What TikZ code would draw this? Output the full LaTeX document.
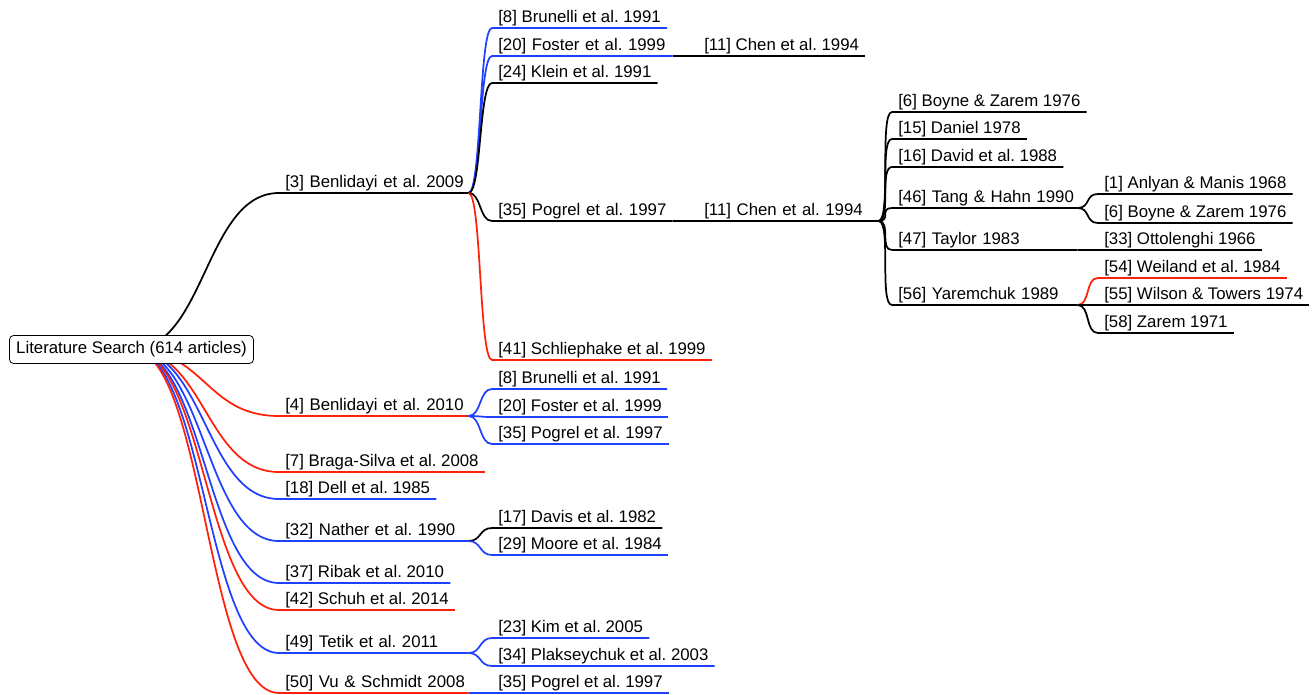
\documentclass[tikz,border=0pt]{standalone}
\usepackage{fontspec}
\setmainfont{Liberation Sans}
\frenchspacing
\usetikzlibrary{backgrounds}
\definecolor{refred}{RGB}{255,32,8}
\definecolor{refblue}{RGB}{32,64,255}
\tikzset{
	lit/.style={anchor=south west, inner xsep=4.5pt, inner ysep=1.6pt, font=\fontsize{12.6}{15}\selectfont},
	hub/.style={lit, text width=#1, execute at begin node=\hbox\bgroup, execute at end node=\egroup},
	branch/.style={line width=1.3pt},
}
\begin{document}
\begin{tikzpicture}[x=0.75pt, y=-0.75pt]
	\useasboundingbox (0,0) rectangle (1312,695);
	\node[draw, rounded corners=3pt, fill=white, line width=0.6pt, inner xsep=5pt, inner ysep=4.6pt, font=\fontsize{12.6}{15}\selectfont] (root) at (131.5,349.5) {Literature Search (614 articles)};

	% first level
	\node[hub=132.75pt] (n3) at (279,193) {[3] Benlidayi et al. 2009};
	\node[hub=132.75pt] (n4) at (279,416) {[4] Benlidayi et al. 2010};
	\node[lit] (n7) at (279,472) {[7] Braga-Silva et al. 2008};
	\node[lit] (n18) at (279,499) {[18] Dell et al. 1985};
	\node[hub=132.75pt] (n32) at (279,541) {[32] Nather et al. 1990};
	\node[lit] (n37) at (279,583) {[37] Ribak et al. 2010};
	\node[lit] (n42) at (279,610) {[42] Schuh et al. 2014};
	\node[hub=132.75pt] (n49) at (279,653) {[49] Tetik et al. 2011};
	\node[hub=132.75pt] (n50) at (279,693) {[50] Vu \& Schmidt 2008};

	% second level
	\node[lit] (n3-8) at (492,28) {[8] Brunelli et al. 1991};
	\node[hub=126pt] (n3-20) at (492,56) {[20] Foster et al. 1999};
	\node[lit] (n3-24) at (492,83) {[24] Klein et al. 1991};
	\node[hub=126pt] (n3-35) at (492,221) {[35] Pogrel et al. 1997};
	\node[lit] (n3-41) at (492,360) {[41] Schliephake et al. 1999};
	\node[lit] (n4-8) at (492,389) {[8] Brunelli et al. 1991};
	\node[lit] (n4-20) at (492,417) {[20] Foster et al. 1999};
	\node[lit] (n4-35) at (492,444) {[35] Pogrel et al. 1997};
	\node[lit] (n32-17) at (492,528) {[17] Davis et al. 1982};
	\node[lit] (n32-29) at (492,555) {[29] Moore et al. 1984};
	\node[lit] (n49-23) at (492,638) {[23] Kim et al. 2005};
	\node[lit] (n49-34) at (492,666) {[34] Plakseychuk et al. 2003};
	\node[lit] (n50-35) at (492,693) {[35] Pogrel et al. 1997};

	% third level
	\node[lit] (n20-11) at (698,56) {[11] Chen et al. 1994};
	\node[hub=126pt] (n35-11) at (698,221) {[11] Chen et al. 1994};

	% fourth level
	\node[lit] (n11-6) at (892,112) {[6] Boyne \& Zarem 1976};
	\node[lit] (n11-15) at (892,139) {[15] Daniel 1978};
	\node[lit] (n11-16) at (892,167) {[16] David et al. 1988};
	\node[hub=129.75pt] (n11-46) at (892,208) {[46] Tang \& Hahn 1990};
	\node[hub=129.75pt] (n11-47) at (892,250) {[47] Taylor 1983};
	\node[hub=129.75pt] (n11-56) at (892,305) {[56] Yaremchuk 1989};

	% fifth level
	\node[lit] (n46-1) at (1098,194) {[1] Anlyan \& Manis 1968};
	\node[lit] (n46-6) at (1098,223) {[6] Boyne \& Zarem 1976};
	\node[lit] (n47-33) at (1098,250) {[33] Ottolenghi 1966};
	\node[lit] (n56-54) at (1098,278) {[54] Weiland et al. 1984};
	\node[lit] (n56-55) at (1098,305) {[55] Wilson \& Towers 1974};
	\node[lit] (n56-58) at (1098,333) {[58] Zarem 1971};

	\begin{scope}[on background layer]
		\foreach \c/\k in {n3/black, n4/refred, n7/refred, n18/refblue, n32/refblue, n37/refblue, n42/refred, n49/refblue, n50/refred}
			\draw[branch, \k] (root.center) .. controls +(74,0) and +(-74,0) .. (\c.south west) -- (\c.south east);
		\foreach \p/\c/\k in {n3/n3-8/refblue, n3/n3-20/refblue, n3/n3-24/black, n3/n3-35/black, n3/n3-41/refred,
				n4/n4-8/refblue, n4/n4-20/refblue, n4/n4-35/refblue, n32/n32-17/black, n32/n32-29/refblue,
				n49/n49-23/refblue, n49/n49-34/refblue, n50/n50-35/refblue,
				n3-20/n20-11/black, n3-35/n35-11/black,
				n35-11/n11-6/black, n35-11/n11-15/black, n35-11/n11-16/black, n35-11/n11-46/black, n35-11/n11-47/black, n35-11/n11-56/black,
				n11-46/n46-1/black, n11-46/n46-6/black, n11-47/n47-33/black,
				n11-56/n56-54/refred, n11-56/n56-55/black, n11-56/n56-58/black}
			\draw[branch, \k] (\p.south east) .. controls +(13,0) and +(-13,0) .. (\c.south west) -- (\c.south east);
	\end{scope}
\end{tikzpicture}
\end{document}
